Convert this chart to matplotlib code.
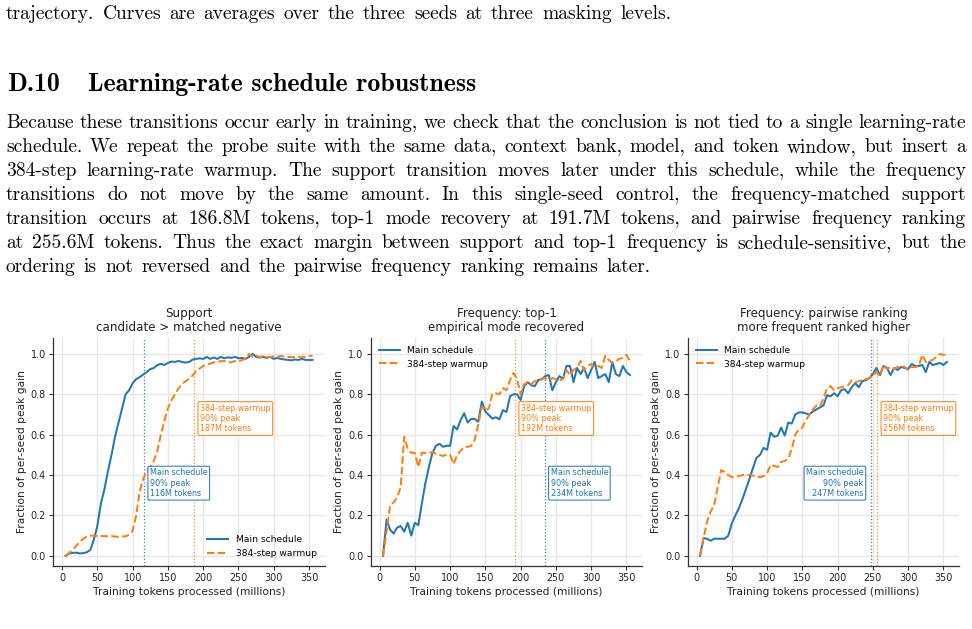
import matplotlib
matplotlib.use('Agg')
import matplotlib.pyplot as plt
from matplotlib.transforms import IdentityTransform

# ---------------- data ----------------
tokens = list(range(5, 360, 5))  # millions of training tokens

support_main = [0.0, 0.012, 0.015, 0.016, 0.012, 0.014, 0.018, 0.03, 0.08, 0.15,
                0.26, 0.33, 0.42, 0.50, 0.59, 0.66, 0.73, 0.80, 0.82, 0.855,
                0.875, 0.885, 0.898, 0.91, 0.925, 0.93, 0.945, 0.95, 0.945, 0.955,
                0.962, 0.96, 0.965, 0.96, 0.957, 0.96, 0.972, 0.975, 0.978, 0.975,
                0.985, 0.975, 0.982, 0.975, 0.985, 0.978, 0.983, 0.98, 0.985, 0.978,
                0.98, 0.975, 0.985, 1.0, 0.985, 0.982, 0.985, 0.98, 0.985, 0.975,
                0.98, 0.975, 0.972, 0.97, 0.968, 0.972, 0.97, 0.975, 0.97, 0.97, 0.97]
support_warm = [0.0, 0.015, 0.03, 0.05, 0.07, 0.085, 0.095, 0.1, 0.1, 0.098,
                0.098, 0.098, 0.097, 0.098, 0.095, 0.095, 0.096, 0.097, 0.105, 0.125,
                0.2, 0.32, 0.38, 0.42, 0.44, 0.47, 0.52, 0.6, 0.67, 0.73,
                0.77, 0.8, 0.83, 0.85, 0.865, 0.875, 0.893, 0.915, 0.928, 0.94,
                0.945, 0.952, 0.958, 0.962, 0.963, 0.965, 0.96, 0.958, 0.965, 0.962,
                0.97, 0.975, 1.0, 0.985, 0.99, 0.985, 0.988, 0.985, 0.985, 0.988,
                0.985, 0.99, 0.985, 0.985, 0.983, 0.985, 0.985, 0.985, 0.985, 0.99, 0.99]

top1_main = [0.0, 0.18, 0.13, 0.11, 0.14, 0.148, 0.12, 0.164, 0.1, 0.164,
             0.152, 0.26, 0.36, 0.44, 0.51, 0.545, 0.555, 0.54, 0.545, 0.545,
             0.643, 0.626, 0.673, 0.706, 0.66, 0.678, 0.678, 0.664, 0.764, 0.715,
             0.697, 0.68, 0.686, 0.676, 0.722, 0.712, 0.79, 0.8, 0.8, 0.772,
             0.84, 0.86, 0.845, 0.84, 0.87, 0.875, 0.89, 0.895, 0.82, 0.86,
             0.89, 0.875, 0.94, 0.94, 0.86, 0.93, 0.9, 0.93, 0.88, 0.92,
             0.96, 0.88, 0.89, 0.9, 0.86, 0.96, 0.9, 0.89, 0.94, 0.91, 0.895]
top1_warm = [0.0, 0.12, 0.25, 0.265, 0.29, 0.34, 0.59, 0.53, 0.51, 0.51,
             0.44, 0.51, 0.51, 0.51, 0.515, 0.505, 0.5, 0.495, 0.5, 0.5,
             0.455, 0.5, 0.52, 0.54, 0.54, 0.545, 0.575, 0.65, 0.74, 0.72,
             0.73, 0.805, 0.805, 0.8, 0.83, 0.82, 0.87, 0.905, 0.875, 0.8,
             0.85, 0.86, 0.85, 0.865, 0.87, 0.875, 0.88, 0.87, 0.88, 0.875,
             0.87, 0.875, 0.92, 0.895, 0.92, 0.93, 0.965, 0.92, 0.94, 0.95,
             0.935, 0.94, 0.93, 0.99, 0.97, 0.955, 0.965, 0.975, 0.98, 0.995, 0.965]

pair_main = [0.0, 0.088, 0.085, 0.075, 0.085, 0.085, 0.085, 0.085, 0.1, 0.16,
             0.2, 0.235, 0.28, 0.33, 0.38, 0.435, 0.485, 0.5, 0.535, 0.525,
             0.61, 0.59, 0.595, 0.635, 0.595, 0.66, 0.655, 0.7, 0.71, 0.71,
             0.705, 0.7, 0.715, 0.725, 0.735, 0.745, 0.795, 0.79, 0.805, 0.79,
             0.82, 0.825, 0.805, 0.835, 0.855, 0.835, 0.865, 0.87, 0.88, 0.9,
             0.93, 0.895, 0.94, 0.93, 0.895, 0.93, 0.92, 0.935, 0.93, 0.925,
             0.95, 0.94, 0.94, 0.945, 0.91, 0.96, 0.945, 0.95, 0.955, 0.945, 0.96]
pair_warm = [0.0, 0.09, 0.17, 0.22, 0.25, 0.34, 0.425, 0.415, 0.4, 0.39,
             0.39, 0.395, 0.4, 0.4, 0.4, 0.398, 0.392, 0.39, 0.395, 0.408,
             0.45, 0.445, 0.44, 0.465, 0.47, 0.48, 0.53, 0.6, 0.625, 0.635,
             0.67, 0.7, 0.725, 0.745, 0.74, 0.78, 0.83, 0.84, 0.82, 0.83,
             0.835, 0.84, 0.845, 0.87, 0.86, 0.865, 0.87, 0.875, 0.88, 0.895,
             0.91, 0.89, 0.945, 0.925, 0.935, 0.925, 0.935, 0.94, 0.935, 0.92,
             0.935, 0.935, 0.94, 0.995, 0.96, 0.965, 0.97, 0.985, 1.0, 0.995, 0.995]

titles = ["Support\ncandidate > matched negative",
          "Frequency: top-1\nempirical mode recovered",
          "Frequency: pairwise ranking\nmore frequent ranked higher"]
main_series = [support_main, top1_main, pair_main]
warm_series = [support_warm, top1_warm, pair_warm]
main_cross = [116, 234, 247]
warm_cross = [187, 192, 256]
main_side = ["right", "right", "left"]
legend_loc = ["lower right", "upper left", "upper left"]
series_names = ["Main schedule", "384-step warmup"]

C_MAIN = "#1f77b4"
C_WARM = "#ff7f0e"

# ---------------- figure ----------------
W, H = 972, 629
fig = plt.figure(figsize=(W / 100, H / 100), dpi=100)
fig.patch.set_facecolor("white")

px = IdentityTransform()
SERIF = "cmr10"
BOLD = "cmb10"
BODY_SIZE = 14.0
HEAD_SIZE = 18.6

fig.text(7, H - 90.7, "D.10", transform=px, fontfamily=BOLD, fontsize=HEAD_SIZE,
         va="baseline", ha="left")
fig.text(88, H - 90.7, "Learning-rate schedule robustness", transform=px,
         fontfamily=BOLD, fontsize=HEAD_SIZE, va="baseline", ha="left")

para = ["Because these transitions occur early in training, we check that the conclusion is not tied to a single learning-rate",
        "schedule. We repeat the probe suite with the same data, context bank, model, and token window, but insert a",
        "384-step learning-rate warmup. The support transition moves later under this schedule, while the frequency",
        "transitions do not move by the same amount. In this single-seed control, the frequency-matched support",
        "transition occurs at 186.8M tokens, top-1 mode recovery at 191.7M tokens, and pairwise frequency ranking",
        "at 255.6M tokens. Thus the exact margin between support and top-1 frequency is schedule-sensitive, but the",
        "ordering is not reversed and the pairwise frequency ranking remains later."]

renderer = fig.canvas.get_renderer()
x0, x1 = 6.0, 966.0
NATURAL_GAP = 8.3


def set_line(line, baseline_px, justify):
    words = line.split(" ")
    objs = [fig.text(0, H - baseline_px, w, transform=px, fontfamily=SERIF,
                     fontsize=BODY_SIZE, va="baseline", ha="left") for w in words]
    widths = [o.get_window_extent(renderer).width for o in objs]
    gap = (x1 - x0 - sum(widths)) / (len(words) - 1) if justify else NATURAL_GAP
    x = x0
    for o, w in zip(objs, widths):
        o.set_x(x)
        x += w + gap


set_line("trajectory. Curves are averages over the three seeds at three masking levels.", 19.3, False)
for i, line in enumerate(para):
    set_line(line, 128.3 + i * 23.9, i < len(para) - 1)

# ---------------- axes ----------------
lefts = [53.3, 370.7, 687.7]
ax_w, ax_top, ax_bot = 271.6, 337.7, 566.0
box_kw = dict(boxstyle="round,pad=0.25,rounding_size=0.15", fc="white", lw=0.8, alpha=0.9)
for k in range(3):
    ax = fig.add_axes([lefts[k] / W, (H - ax_bot) / H, ax_w / W, (ax_bot - ax_top) / H])
    ax.plot(tokens, main_series[k], color=C_MAIN, lw=1.45, label=series_names[0], zorder=3)
    ax.plot(tokens, warm_series[k], color=C_WARM, lw=1.45, ls=(0, (3.7, 1.6)),
            label=series_names[1], zorder=3)
    ax.axvline(main_cross[k], color=C_MAIN, ls=":", lw=0.9, alpha=0.9, zorder=2)
    ax.axvline(warm_cross[k], color=C_WARM, ls=":", lw=0.9, alpha=0.9, zorder=2)

    off = 8.5
    main_txt = f"Main schedule\n90% peak\n{main_cross[k]}M tokens"
    warm_txt = f"384-step warmup\n90% peak\n{warm_cross[k]}M tokens"
    if main_side[k] == "right":
        ax.text(main_cross[k] + off, 0.36, main_txt, color=C_MAIN, fontsize=5.8,
                ha="left", va="center", ma="left", zorder=5, bbox=dict(ec=C_MAIN, **box_kw))
    else:
        ax.text(main_cross[k] - off - 1.5, 0.36, main_txt, color=C_MAIN, fontsize=5.8,
                ha="right", va="center", ma="right", zorder=5, bbox=dict(ec=C_MAIN, **box_kw))
    ax.text(warm_cross[k] + off, 0.68, warm_txt, color=C_WARM, fontsize=5.8,
            ha="left", va="center", ma="left", zorder=5, bbox=dict(ec=C_WARM, **box_kw))

    ax.set_xlim(-12.5, 372.5)
    ax.set_ylim(-0.05, 1.08)
    ax.set_xticks([0, 50, 100, 150, 200, 250, 300, 350])
    ax.set_yticks([0.0, 0.2, 0.4, 0.6, 0.8, 1.0])
    ax.set_yticklabels(["0.0", "0.2", "0.4", "0.6", "0.8", "1.0"])
    ax.grid(True, color="#e6e6e6", lw=0.9)
    ax.set_axisbelow(True)
    for s in ["top", "right"]:
        ax.spines[s].set_visible(False)
    for s in ["left", "bottom"]:
        ax.spines[s].set_color("#333333")
        ax.spines[s].set_linewidth(0.9)
    ax.tick_params(labelsize=6.9, length=2.8, width=0.8, colors="#333333", labelcolor="#222222", pad=2.5)
    ax.set_title(titles[k], fontsize=8.6, pad=4.5, linespacing=1.15, color="#222222")
    ax.set_xlabel("Training tokens processed (millions)", fontsize=7.7, labelpad=2.5, color="#222222")
    ax.set_ylabel("Fraction of per-seed peak gain", fontsize=7.7, labelpad=3, color="#222222")
    ax.legend(loc=legend_loc[k], frameon=False, fontsize=6.6, handlelength=2.3)

fig.savefig("out.png", dpi=100, facecolor="white")
